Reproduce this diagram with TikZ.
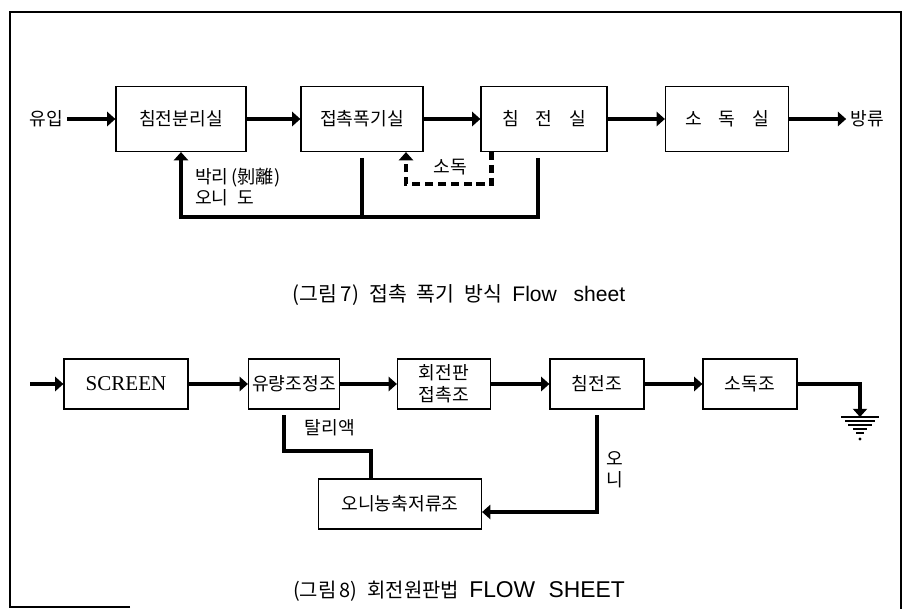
\documentclass[tikz,border=0pt]{standalone}
\usepackage{fontspec}
\setmainfont{Liberation Serif}
\newfontfamily\kr{Noto Sans CJK KR}
\newfontfamily\capsf{Liberation Sans}
\usetikzlibrary{arrows.meta}

\begin{document}
\begin{tikzpicture}[x=0.03cm, y=-0.03cm,
  >={Triangle[length=7pt,width=12pt]},
  tank/.style={draw, line width=1pt, inner sep=2pt, minimum height=1.95cm,
    font=\kr\fontsize{15.5}{19}\selectfont},
  tank2/.style={tank, minimum height=1.5cm},
  lbl/.style={font=\kr\fontsize{15.5}{18}\selectfont},
  pipe/.style={line width=4.2pt},
  ret/.style={line width=3.4pt},
  dpipe/.style={line width=3.6pt, dash pattern=on 7pt off 4pt},
  sheetframe/.style={line width=1.2pt}]
\useasboundingbox (0,0) rectangle (911,609);
\draw[sheetframe] (130,607) -- (10,607) -- (10,12) -- (901,12) -- (901,609);

% (그림 7)
\node[tank, minimum width=3.9cm] (b1) at (181,119) {침전분리실};
\node[tank, minimum width=3.66cm] (b2) at (362,119) {접촉폭기실};
\node[tank, minimum width=3.78cm] (b3) at (544,119) {침\hspace{0.5cm}전\hspace{0.5cm}실};
\node[tank, minimum width=3.69cm] (b4) at (727,119) {소\hspace{0.5cm}독\hspace{0.5cm}실};
\node[lbl] (inlet) at (46,119) {유입};
\node[lbl] (outlet) at (867,119) {방류};
\draw[pipe,->] (inlet) -- (b1);
\draw[pipe,->] (b1) -- (b2);
\draw[pipe,->] (b2) -- (b3);
\draw[pipe,->] (b3) -- (b4);
\draw[pipe,->] (b4) -- (outlet);

\coordinate (R) at (181,217);
\draw[ret,->] ([xshift=-0.18cm,yshift=-5pt]b3.south) |- (R) -- (b1.south);
\draw[ret] ([yshift=-5pt]b2.south) -- (b2.south |- R);
\node[lbl, align=left, anchor=west] (bakri) at (191,187) {박리\,(剝離)\\오니\hspace{0.15cm} 도};

\coordinate (D) at (406,184);
\draw[dpipe,->] ([xshift=0.33cm]b3.south west) |- (D) -- (b2.south -| D);
\node[lbl] (sodok) at (450,167) {소독};

\node (c7) at (459,295) {\kr\fontsize{17.5}{20}\selectfont
  (그림\,7)\hspace{0.3cm}접촉\hspace{0.3cm}폭기\hspace{0.3cm}방식\hspace{0.3cm}\capsf\fontsize{18}{20}\selectfont Flow\hspace{0.5cm}sheet};

% (그림 8)
\coordinate (in2) at (30,384);
\node[tank2, minimum width=3.72cm, font=\fontsize{18}{20}\selectfont] (scr) at (126,384) {SCREEN};
\node[tank2, minimum width=2.73cm, inner xsep=0pt] (yr) at (294,384) {유량조정조};
\node[tank2, minimum width=2.79cm, align=center] (hj) at (444,384) {회전판\\접촉조};
\node[tank2, minimum width=2.82cm] (cj) at (597,384) {침전조};
\node[tank2, minimum width=2.82cm] (sd) at (750,384) {소독조};
\node[tank2, minimum width=4.89cm] (on) at (400,504) {오니농축저류조};
\draw[pipe,->] (in2) -- (scr);
\draw[pipe,->] (scr) -- (yr);
\draw[pipe,->] (yr) -- (hj);
\draw[pipe,->] (hj) -- (cj);
\draw[pipe,->] (cj) -- (sd);

\coordinate (G) at (860,417);
\draw[pipe,->] (sd) -| (G);
\draw[line width=1.4pt] (G) ++(-19,0) -- ++(38,0);
\draw[line width=1.1pt] (G) ++(-15,4) -- ++(30,0);
\draw[line width=1.1pt] (G) ++(-12,8) -- ++(24,0);
\draw[line width=1.1pt] (G) ++(-7,12) -- ++(14,0);
\draw[line width=1.1pt] (G) ++(-4,16) -- ++(8,0);
\fill (G) ++(0,22) circle (1.3pt);

\coordinate (T) at (371,451);
\draw[ret] ([xshift=-0.29cm,yshift=-5pt]yr.south) |- (T) -- (on.north -| T);
\node[lbl] (tal) at (330,428) {탈리액};
\draw[ret,->] ([yshift=-5pt]cj.south) |- ([yshift=-0.24cm]on.east);
\node[lbl, align=center] (oni) at (615,470) {오\\니};

\node (c8) at (459,591) {\kr\fontsize{17}{20}\selectfont
  (그림\,8)\hspace{0.3cm}회전원판법\hspace{0.3cm}\capsf\fontsize{19.5}{22}\selectfont FLOW\hspace{0.4cm}SHEET};
\end{tikzpicture}
\end{document}
